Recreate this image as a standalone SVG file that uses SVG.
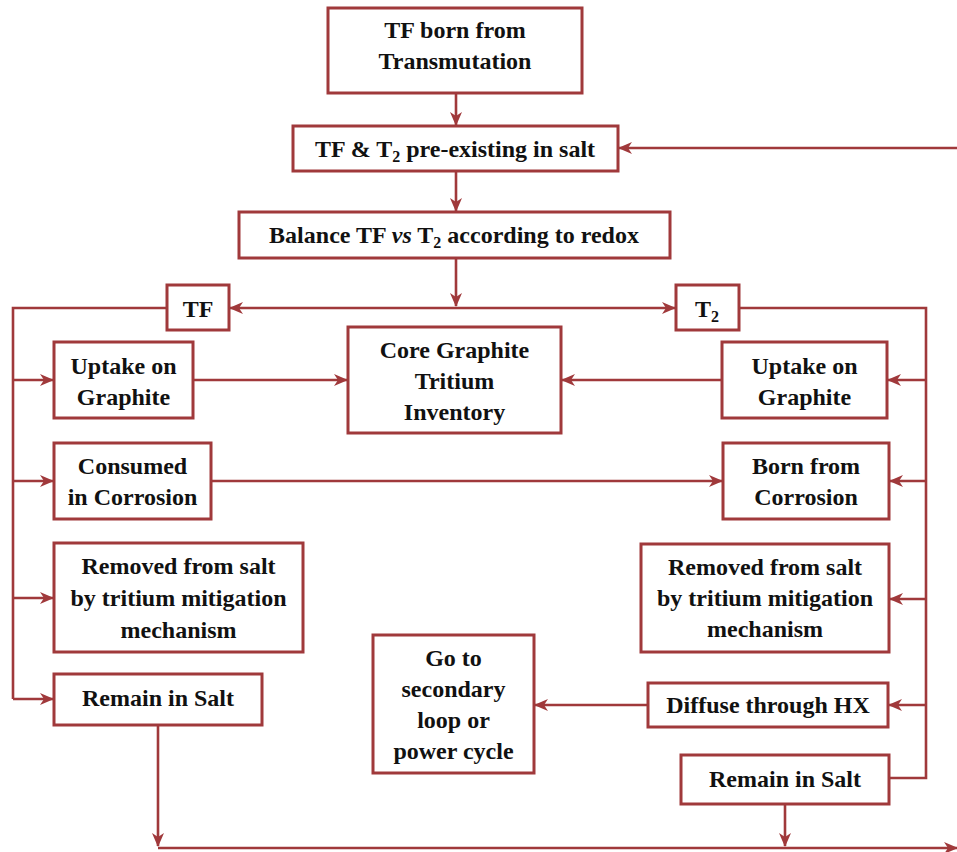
<svg xmlns="http://www.w3.org/2000/svg" width="957" height="852" viewBox="0 0 957 852">
<style>
.b{fill:#fff;stroke:#a0393b;stroke-width:3}
.c{fill:none;stroke:#a0393b;stroke-width:2.6}
.a{marker-end:url(#ah)}
text{font-family:"Liberation Serif","Times New Roman",serif;font-weight:bold;font-size:24px;fill:#111;text-anchor:middle}
</style>
<defs>
<marker id="ah" markerUnits="userSpaceOnUse" viewBox="0 0 14 14" refX="13" refY="7" markerWidth="14" markerHeight="14" orient="auto">
<path d="M0,1 L14,7 L0,13 L4,7 z" fill="#a0393b"/>
</marker>
</defs>
<rect width="957" height="852" fill="#fff"/>
<g id="connectors">
<line class="c a" x1="456" y1="93" x2="456" y2="125"/>
<line class="c a" x1="456" y1="171" x2="456" y2="211"/>
<line class="c a" x1="957" y1="148" x2="619" y2="148" stroke-width="2"/>
<line class="c a" x1="456" y1="258" x2="456" y2="306"/>
<line class="c a" x1="456" y1="308" x2="230" y2="308"/>
<line class="c a" x1="456" y1="308" x2="675" y2="308"/>
<polyline class="c" points="167,308 13,308 13,699"/>
<line class="c a" x1="13" y1="380" x2="53" y2="380"/>
<line class="c a" x1="13" y1="481" x2="53" y2="481"/>
<line class="c a" x1="13" y1="598" x2="53" y2="598"/>
<line class="c a" x1="13" y1="699" x2="53" y2="699"/>
<polyline class="c" points="739,308 926,308 926,778 889,778"/>
<line class="c a" x1="926" y1="380" x2="888" y2="380"/>
<line class="c a" x1="926" y1="481" x2="890" y2="481"/>
<line class="c a" x1="926" y1="599" x2="890" y2="599"/>
<line class="c a" x1="926" y1="705" x2="889" y2="705"/>
<line class="c a" x1="193" y1="380" x2="347" y2="380"/>
<line class="c a" x1="722" y1="380" x2="562" y2="380"/>
<line class="c a" x1="211" y1="481" x2="722" y2="481"/>
<line class="c a" x1="648" y1="705" x2="535" y2="705"/>
<line class="c a" x1="158" y1="725" x2="158" y2="846"/>
<line class="c a" x1="158" y1="848" x2="957" y2="848"/>
<line class="c a" x1="785" y1="804" x2="785" y2="846"/>
</g>
<g id="n_transmutation"><rect class="b" x="328" y="8" width="254" height="85"/><text x="455" y="38">TF born from</text><text x="455" y="69">Transmutation</text></g>
<g id="n_preexisting"><rect class="b" x="293" y="126" width="325" height="45"/><text x="455" y="157">TF &amp; T<tspan font-size="16" dy="5">2</tspan><tspan dy="-5"> pre-existing in salt</tspan></text></g>
<g id="n_balance"><rect class="b" x="239" y="212" width="431" height="46"/><text x="454" y="243">Balance TF <tspan font-style="italic">vs</tspan> T<tspan font-size="16" dy="5">2</tspan><tspan dy="-5"> according to redox</tspan></text></g>
<g id="n_tf"><rect class="b" x="167" y="285" width="62" height="45"/><text x="198" y="317">TF</text></g>
<g id="n_t2"><rect class="b" x="676" y="285" width="63" height="45"/><text x="707" y="317">T<tspan font-size="16" dy="5">2</tspan></text></g>
<g id="n_uptake_l"><rect class="b" x="54" y="342" width="139" height="76"/><text x="123.5" y="374">Uptake on</text><text x="123.5" y="405">Graphite</text></g>
<g id="n_core"><rect class="b" x="348" y="327" width="213" height="106"/><text x="454.5" y="358">Core Graphite</text><text x="454.5" y="389">Tritium</text><text x="454.5" y="420">Inventory</text></g>
<g id="n_uptake_r"><rect class="b" x="722" y="342" width="165" height="76"/><text x="804.5" y="374">Uptake on</text><text x="804.5" y="405">Graphite</text></g>
<g id="n_consumed"><rect class="b" x="54" y="443" width="157" height="76"/><text x="132.5" y="474">Consumed</text><text x="132.5" y="505">in Corrosion</text></g>
<g id="n_born"><rect class="b" x="723" y="443" width="166" height="76"/><text x="806" y="474">Born from</text><text x="806" y="505">Corrosion</text></g>
<g id="n_removed_l"><rect class="b" x="54" y="543" width="249" height="109"/><text x="178.5" y="574">Removed from salt</text><text x="178.5" y="606">by tritium mitigation</text><text x="178.5" y="638">mechanism</text></g>
<g id="n_removed_r"><rect class="b" x="641" y="544" width="248" height="108"/><text x="765" y="575">Removed from salt</text><text x="765" y="606">by tritium mitigation</text><text x="765" y="637">mechanism</text></g>
<g id="n_remain_l"><rect class="b" x="54" y="674" width="208" height="51"/><text x="158" y="706">Remain in Salt</text></g>
<g id="n_goto"><rect class="b" x="373" y="635" width="161" height="138"/><text x="453.5" y="666">Go to</text><text x="453.5" y="697">secondary</text><text x="453.5" y="728">loop or</text><text x="453.5" y="759">power cycle</text></g>
<g id="n_diffuse"><rect class="b" x="648" y="683" width="240" height="44"/><text x="768" y="713">Diffuse through HX</text></g>
<g id="n_remain_r"><rect class="b" x="681" y="755" width="208" height="49"/><text x="785" y="787">Remain in Salt</text></g>
</svg>
